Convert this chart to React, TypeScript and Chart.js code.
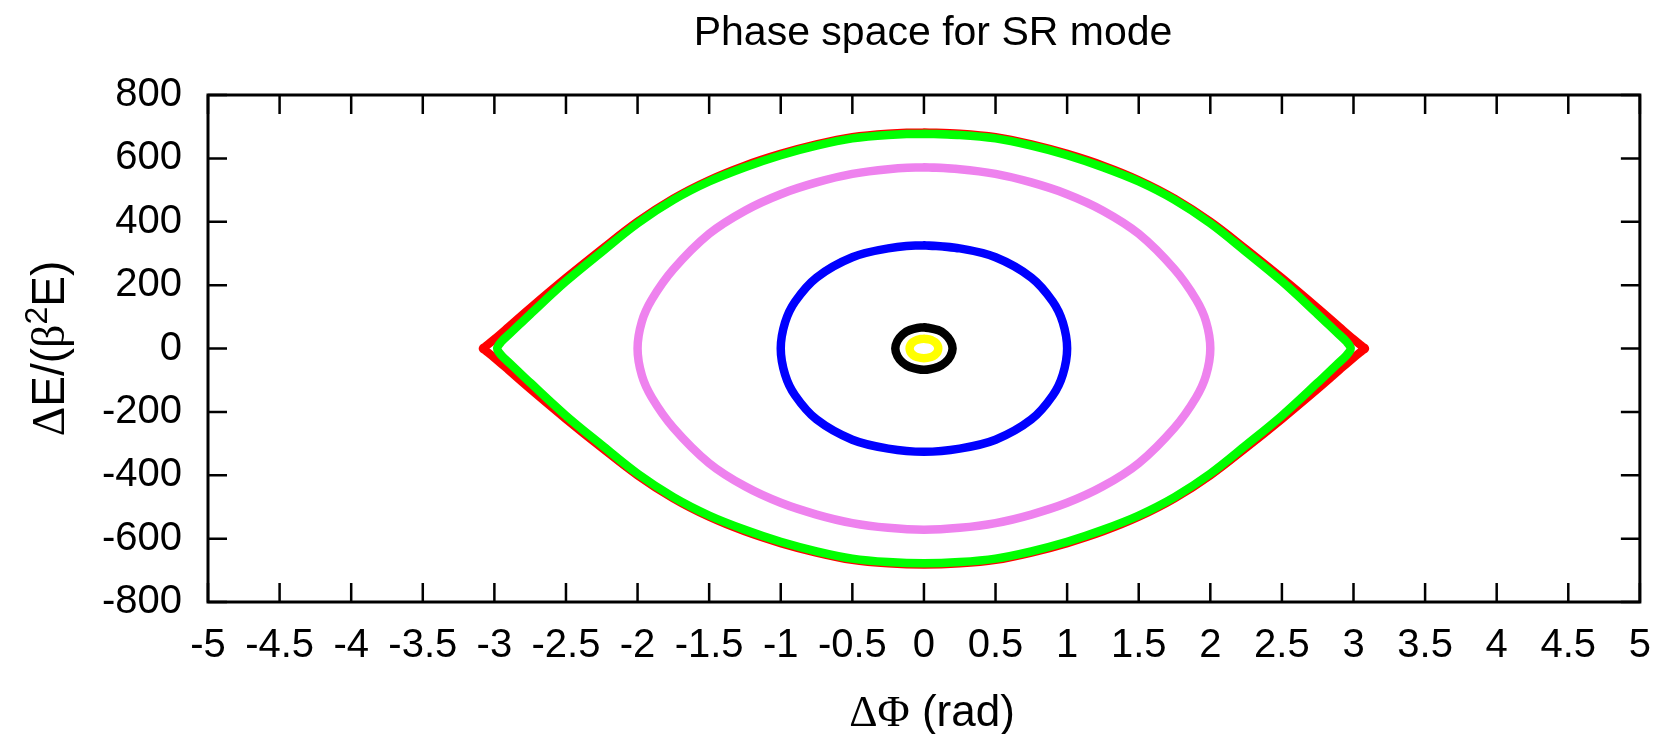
import React, { useEffect, useRef } from "react";
import { Chart, registerables } from "chart.js";

Chart.register(...registerables);

// ---------- text ----------
const TITLE = "Phase space for SR mode";
const X_TITLE_PARTS = [
  { t: "Δ", serif: true },
  { t: "Φ", serif: true },
  { t: " (rad)" },
];
const Y_TITLE_PARTS = [
  { t: "Δ", serif: true },
  { t: "E/(" },
  { t: "β", serif: true },
  { t: "2", sup: true },
  { t: "E)" },
];

// ---------- ticks ----------
const xTickValues = [-5, -4.5, -4, -3.5, -3, -2.5, -2, -1.5, -1, -0.5, 0, 0.5, 1, 1.5, 2, 2.5, 3, 3.5, 4, 4.5, 5];
const xTickLabels = ["-5", "-4.5", "-4", "-3.5", "-3", "-2.5", "-2", "-1.5", "-1", "-0.5", "0", "0.5", "1", "1.5", "2", "2.5", "3", "3.5", "4", "4.5", "5"];
const yTickValues = [-800, -600, -400, -200, 0, 200, 400, 600, 800];
const yTickLabels = ["-800", "-600", "-400", "-200", "0", "200", "400", "600", "800"];

// ---------- curves (ΔΦ, ΔE) ----------
const yellowX = [0, 0.05, 0.077, 0.094, 0.1, 0.094, 0.077, 0.05, 0, -0.05, -0.077, -0.094, -0.1, -0.094, -0.077, -0.05, 0, 0.05];
const yellowY = [31, 27, 20, 11, 0, -11, -20, -27, -31, -27, -20, -11, 0, 11, 20, 27, 31, 27];

const blackX = [0, 0.1, 0.15, 0.185, 0.2, 0.185, 0.15, 0.1, 0, -0.1, -0.15, -0.185, -0.2, -0.185, -0.15, -0.1, 0, 0.1];
const blackY = [67, 58, 44, 24, 0, -24, -44, -58, -67, -58, -44, -24, 0, 24, 44, 58, 67, 58];

const blueX = [0, 0.25, 0.5, 0.75, 0.9, 0.97, 1, 0.97, 0.9, 0.75, 0.5, 0.25, 0, -0.25, -0.5, -0.75, -0.9, -0.97, -1, -0.97, -0.9, -0.75, -0.5, -0.25, 0, 0.25];
const blueY = [326, 316, 288, 224, 148, 82, 0, -82, -148, -224, -288, -316, -326, -316, -288, -224, -148, -82, 0, 82, 148, 224, 288, 316, 326, 316];

const violetX = [0, 0.25, 0.5, 0.75, 1, 1.25, 1.5, 1.75, 1.9, 1.97, 2, 1.97, 1.9, 1.75, 1.5, 1.25, 1, 0.75, 0.5, 0.25, 0, -0.25, -0.5, -0.75, -1, -1.25, -1.5, -1.75, -1.9, -1.97, -2, -1.97, -1.9, -1.75, -1.5, -1.25, -1, -0.75, -0.5, -0.25, 0, 0.25];
const violetY = [572, 566, 551, 524, 487, 435, 362, 250, 155, 85, 0, -85, -155, -250, -362, -435, -487, -524, -551, -566, -572, -566, -551, -524, -487, -435, -362, -250, -155, -85, 0, 85, 155, 250, 362, 435, 487, 524, 551, 566, 572, 566];

const greenX = [0, 0.25, 0.5, 0.75, 1, 1.25, 1.5, 1.75, 2, 2.25, 2.5, 2.75, 2.88, 2.95, 2.98, 2.95, 2.88, 2.75, 2.5, 2.25, 2, 1.75, 1.5, 1.25, 1, 0.75, 0.5, 0.25, 0, -0.25, -0.5, -0.75, -1, -1.25, -1.5, -1.75, -2, -2.25, -2.5, -2.75, -2.88, -2.95, -2.98, -2.95, -2.88, -2.75, -2.5, -2.25, -2, -1.75, -1.5, -1.25, -1, -0.75, -0.5, -0.25, 0, 0.25];
const greenY = [678, 674, 663, 640, 610, 572, 527, 469, 395, 305, 212, 108, 52, 22, 0, -22, -52, -108, -212, -305, -395, -469, -527, -572, -610, -640, -663, -674, -678, -674, -663, -640, -610, -572, -527, -469, -395, -305, -212, -108, -52, -22, 0, 22, 52, 108, 212, 305, 395, 469, 527, 572, 610, 640, 663, 674, 678, 674];

const redX = [0, 0.25, 0.5, 0.75, 1, 1.25, 1.5, 1.75, 2, 2.25, 2.5, 2.75, 2.9, 3, 3.06, 3.08, 3.06, 3, 2.9, 2.75, 2.5, 2.25, 2, 1.75, 1.5, 1.25, 1, 0.75, 0.5, 0.25, 0, -0.25, -0.5, -0.75, -1, -1.25, -1.5, -1.75, -2, -2.25, -2.5, -2.75, -2.9, -3, -3.06, -3.08, -3.06, -3, -2.9, -2.75, -2.5, -2.25, -2, -1.75, -1.5, -1.25, -1, -0.75, -0.5, -0.25, 0, 0.25];
const redY = [682, 678, 667, 644, 614, 577, 531, 473, 400, 313, 222, 127, 68, 29, 7, 0, -7, -29, -68, -127, -222, -313, -400, -473, -531, -577, -614, -644, -667, -678, -682, -678, -667, -644, -614, -577, -531, -473, -400, -313, -222, -127, -68, -29, -7, 0, 7, 29, 68, 127, 222, 313, 400, 473, 531, 577, 614, 644, 667, 678, 682, 678];

const SERIES = [
  { name: "yellow", xs: yellowX, ys: yellowY, color: "#ffff00" },
  { name: "black", xs: blackX, ys: blackY, color: "#000000" },
  { name: "blue", xs: blueX, ys: blueY, color: "#0000ff" },
  { name: "violet", xs: violetX, ys: violetY, color: "#ee82ee" },
  { name: "green", xs: greenX, ys: greenY, color: "#00ff00" },
  { name: "red", xs: redX, ys: redY, color: "#ff0000" },
];

const SANS = '"Liberation Sans", Arial, Helvetica, sans-serif';
const SERIF = '"Liberation Serif", "DejaVu Serif", serif';

function drawParts(ctx: CanvasRenderingContext2D, parts: any[], size: number, cx: number, baseline: number) {
  const supSize = Math.round(size * 0.7);
  const widths = parts.map((p) => {
    ctx.font = `${p.sup ? supSize : size}px ${p.serif ? SERIF : SANS}`;
    return ctx.measureText(p.t).width;
  });
  const total = widths.reduce((a, b) => a + b, 0);
  let x = cx - total / 2;
  ctx.textAlign = "left";
  ctx.textBaseline = "alphabetic";
  parts.forEach((p, i) => {
    ctx.font = `${p.sup ? supSize : size}px ${p.serif ? SERIF : SANS}`;
    ctx.fillText(p.t, x, p.sup ? baseline - size * 0.38 : baseline);
    x += widths[i];
  });
}

const framePlugin = {
  id: "gnuframe",
  afterDraw(chart: any) {
    const { ctx, chartArea } = chart;
    const { left, right, top, bottom } = chartArea;
    const xs = chart.scales.x;
    const ys = chart.scales.y;
    ctx.save();
    ctx.strokeStyle = "#000";
    ctx.lineWidth = 2.5;
    ctx.beginPath();
    xTickValues.forEach((v) => {
      const px = xs.getPixelForValue(v);
      ctx.moveTo(px, bottom);
      ctx.lineTo(px, bottom - 19);
      ctx.moveTo(px, top);
      ctx.lineTo(px, top + 19);
    });
    yTickValues.forEach((v) => {
      const py = ys.getPixelForValue(v);
      ctx.moveTo(left, py);
      ctx.lineTo(left + 19, py);
      ctx.moveTo(right, py);
      ctx.lineTo(right - 19, py);
    });
    ctx.stroke();
    ctx.lineWidth = 3;
    ctx.strokeRect(left, top, right - left, bottom - top);

    ctx.fillStyle = "#000";
    ctx.font = `41px ${SANS}`;
    ctx.textAlign = "center";
    ctx.textBaseline = "alphabetic";
    ctx.fillText(TITLE, 933, 45);

    drawParts(ctx, X_TITLE_PARTS, 44, 932, 726);

    ctx.translate(64, (top + bottom) / 2);
    ctx.rotate(-Math.PI / 2);
    drawParts(ctx, Y_TITLE_PARTS, 46, 0, 0);
    ctx.restore();
  },
};

export default function App() {
  const ref = useRef<HTMLCanvasElement | null>(null);

  useEffect(() => {
    document.body.style.margin = "0";
    document.body.style.overflow = "hidden";
    const canvas = ref.current;
    if (!canvas) return;
    const datasets = SERIES.map((s, idx) => ({
      label: s.name,
      data: s.xs.map((x, i) => ({ x, y: s.ys[i] })),
      borderColor: s.color,
      backgroundColor: s.color,
      borderWidth: 8.5,
      borderCapStyle: "round",
      borderJoinStyle: "round",
      pointRadius: 0,
      tension: 0.35,
      fill: false,
      order: idx,
    }));

    const chart = new Chart(canvas, {
      type: "line",
      data: { datasets },
      options: {
        animation: false,
        responsive: false,
        devicePixelRatio: 1,
        layout: { padding: { left: 0, right: 24, top: 95, bottom: 0 } },
        plugins: {
          legend: { display: false },
          tooltip: { enabled: false },
          title: { display: false },
        },
        scales: {
          x: {
            type: "linear",
            min: -5,
            max: 5,
            afterBuildTicks: (s: any) => {
              s.ticks = xTickValues.map((v) => ({ value: v }));
            },
            afterFit: (s: any) => {
              s.height = 132;
            },
            ticks: {
              autoSkip: false,
              maxRotation: 0,
              minRotation: 0,
              padding: 20,
              color: "#000",
              font: { family: SANS, size: 40 },
              callback: (v: any) => {
                const i = xTickValues.indexOf(Number(v));
                return i >= 0 ? xTickLabels[i] : "";
              },
            },
            grid: { display: false, drawTicks: false },
            border: { display: false },
          },
          y: {
            type: "linear",
            min: -800,
            max: 800,
            afterBuildTicks: (s: any) => {
              s.ticks = yTickValues.map((v) => ({ value: v }));
            },
            afterFit: (s: any) => {
              s.width = 208;
            },
            ticks: {
              autoSkip: false,
              padding: 26,
              color: "#000",
              font: { family: SANS, size: 40 },
              callback: (v: any) => {
                const i = yTickValues.indexOf(Number(v));
                return i >= 0 ? yTickLabels[i] : "";
              },
            },
            grid: { display: false, drawTicks: false },
            border: { display: false },
          },
        },
      } as any,
      plugins: [framePlugin],
    });
    return () => chart.destroy();
  }, []);

  return (
    <div style={{ width: 1671, height: 734, background: "#fff" }}>
      <canvas ref={ref} width={1671} height={734} style={{ display: "block", width: 1671, height: 734 }} />
    </div>
  );
}
